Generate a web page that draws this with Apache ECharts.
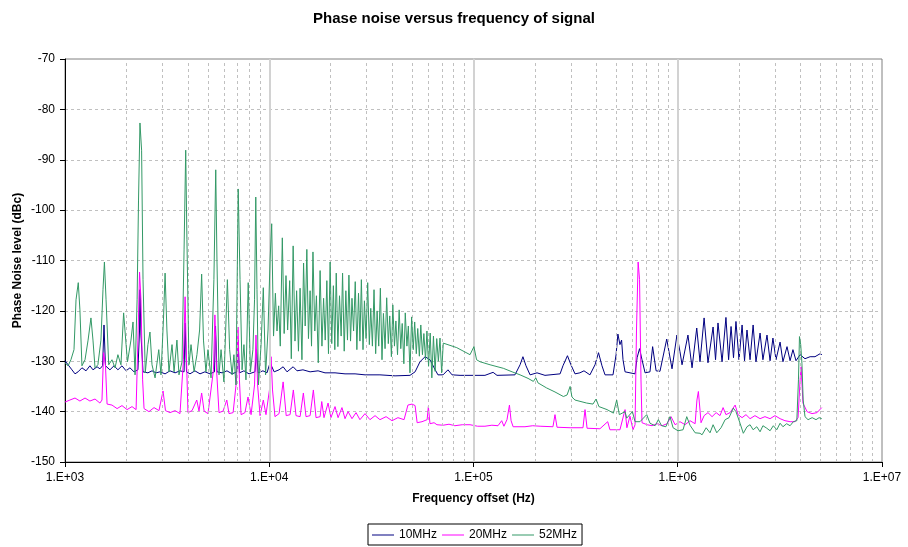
<!DOCTYPE html>
<html>
<head>
<meta charset="utf-8">
<script src="https://cdn.jsdelivr.net/npm/echarts@6/dist/echarts.min.js"></script>
<style>
  html, body { margin: 0; padding: 0; background: #ffffff; }
  #chart { width: 908px; height: 547px; }
</style>
</head>
<body>
<div id="chart"></div>
<script>
// Series names, axis tick labels and measured phase noise.
const seriesNames = ['10MHz', '20MHz', '52MHz'];
const xTickLabels = ['1.E+03', '1.E+04', '1.E+05', '1.E+06', '1.E+07'];

// Each point: [log10(offset frequency in Hz), phase noise in dBc]
const noise10MHz = [
  [3.000,-129.9],[3.015,-130.7],[3.034,-131.7],[3.049,-132.5],[3.064,-132.1],[3.083,-131.3],[3.103,-131.9],
  [3.122,-130.9],[3.137,-131.7],[3.157,-131.1],[3.171,-131.5],[3.184,-130.9],[3.191,-122.8],[3.198,-130.9],
  [3.220,-131.7],[3.240,-130.9],[3.259,-131.7],[3.279,-130.9],[3.299,-131.9],[3.318,-131.3],[3.338,-132.1],
  [3.357,-131.7],[3.365,-123.8],[3.367,-115.8],[3.372,-124.8],[3.382,-132.1],[3.406,-132.3],[3.426,-131.9],
  [3.446,-132.3],[3.465,-132.1],[3.490,-132.5],[3.514,-131.9],[3.539,-132.3],[3.563,-131.9],[3.583,-132.1],
  [3.588,-122.4],[3.595,-132.1],[3.612,-132.5],[3.636,-131.9],[3.661,-132.5],[3.685,-132.1],[3.710,-132.5],
  [3.732,-132.1],[3.737,-123.0],[3.744,-132.1],[3.769,-132.3],[3.793,-131.9],[3.818,-132.5],[3.842,-132.1],
  [3.847,-125.8],[3.854,-132.3],[3.876,-131.9],[3.901,-132.5],[3.930,-132.1],[3.938,-127.7],[3.945,-132.3],
  [3.969,-131.9],[3.989,-132.3],[4.004,-130.3],[4.024,-132.1],[4.048,-131.7],[4.068,-131.1],[4.087,-132.1],
  [4.117,-131.1],[4.136,-131.9],[4.165,-131.7],[4.200,-132.1],[4.239,-131.9],[4.273,-132.3],[4.322,-132.3],
  [4.371,-132.5],[4.420,-132.5],[4.469,-132.7],[4.542,-132.7],[4.616,-132.9],[4.689,-132.8],[4.714,-132.1],
  [4.738,-130.1],[4.763,-129.1],[4.787,-129.7],[4.807,-131.3],[4.826,-132.7],[4.851,-132.7],[4.875,-131.7],
  [4.895,-132.7],[4.934,-132.8],[5.007,-132.8],[5.056,-132.8],[5.096,-132.2],[5.115,-132.8],[5.203,-132.7],
  [5.228,-130.7],[5.242,-129.1],[5.257,-130.9],[5.277,-132.7],[5.311,-132.3],[5.350,-132.8],[5.424,-132.5],
  [5.438,-130.9],[5.460,-128.9],[5.477,-130.7],[5.497,-132.5],[5.521,-132.3],[5.541,-131.9],[5.570,-132.7],
  [5.595,-130.7],[5.612,-128.3],[5.629,-130.9],[5.644,-132.7],[5.683,-132.7],[5.698,-128.7],[5.707,-124.6],
  [5.717,-126.7],[5.725,-125.8],[5.732,-129.7],[5.742,-132.1],[5.791,-132.5],[5.801,-129.3],[5.813,-127.5],
  [5.825,-129.7],[5.840,-132.3],[5.864,-132.1],[5.877,-127.1],[5.894,-131.9],[5.913,-132.0],[5.946,-125.6],
  [5.972,-131.5],[5.996,-124.8],[6.011,-128.1],[6.021,-130.7],[6.050,-124.8],[6.070,-131.3],[6.093,-123.4],
  [6.109,-130.1],[6.129,-121.4],[6.148,-130.3],[6.173,-123.2],[6.185,-129.7],[6.197,-122.4],[6.217,-130.1],
  [6.236,-121.3],[6.249,-129.7],[6.261,-123.1],[6.273,-129.3],[6.285,-122.1],[6.300,-129.7],[6.315,-122.8],
  [6.327,-129.9],[6.339,-123.8],[6.354,-129.7],[6.369,-122.8],[6.383,-130.1],[6.403,-124.4],[6.417,-129.7],
  [6.437,-124.8],[6.452,-129.9],[6.466,-125.4],[6.481,-129.7],[6.501,-126.2],[6.515,-130.1],[6.535,-127.1],
  [6.550,-129.9],[6.564,-127.7],[6.579,-129.9],[6.599,-128.7],[6.623,-129.5],[6.648,-129.1],[6.672,-129.1],
  [6.697,-128.5],[6.706,-128.7]
];

const noise20MHz = [
  [3.000,-138.1],[3.024,-137.7],[3.049,-137.3],[3.073,-137.9],[3.098,-137.3],[3.122,-137.9],[3.147,-137.5],
  [3.171,-138.3],[3.181,-137.7],[3.189,-128.3],[3.198,-130.7],[3.206,-138.5],[3.230,-138.7],[3.255,-139.4],
  [3.279,-138.8],[3.304,-139.6],[3.328,-139.0],[3.348,-139.6],[3.357,-125.8],[3.365,-112.3],[3.372,-117.8],
  [3.380,-133.7],[3.387,-139.4],[3.411,-140.0],[3.436,-139.2],[3.460,-139.8],[3.480,-135.9],[3.492,-139.8],
  [3.514,-140.2],[3.539,-139.8],[3.563,-140.4],[3.580,-129.7],[3.588,-117.2],[3.595,-129.7],[3.602,-140.2],
  [3.622,-139.8],[3.645,-137.7],[3.656,-139.9],[3.669,-136.3],[3.681,-139.9],[3.700,-140.4],[3.727,-131.7],
  [3.734,-120.8],[3.742,-131.7],[3.754,-140.2],[3.774,-139.9],[3.792,-137.7],[3.803,-140.4],[3.823,-140.2],
  [3.840,-133.7],[3.847,-123.2],[3.854,-133.7],[3.862,-140.6],[3.881,-140.2],[3.896,-137.1],[3.911,-140.6],
  [3.928,-134.7],[3.935,-124.8],[3.943,-134.7],[3.955,-140.8],[3.971,-137.7],[3.984,-140.6],[4.001,-135.7],
  [4.009,-129.1],[4.016,-135.7],[4.028,-141.0],[4.048,-140.4],[4.068,-134.1],[4.083,-140.8],[4.102,-140.6],
  [4.118,-135.7],[4.131,-140.8],[4.151,-141.0],[4.167,-136.3],[4.180,-141.0],[4.200,-140.8],[4.216,-135.7],
  [4.229,-141.2],[4.249,-141.0],[4.257,-138.0],[4.268,-141.2],[4.288,-138.3],[4.302,-141.2],[4.322,-139.0],
  [4.337,-141.2],[4.356,-139.2],[4.371,-141.4],[4.386,-140.0],[4.405,-141.4],[4.425,-140.2],[4.444,-141.6],
  [4.469,-140.4],[4.493,-141.6],[4.518,-140.8],[4.542,-141.6],[4.572,-141.0],[4.601,-141.8],[4.630,-141.2],
  [4.660,-141.6],[4.679,-138.7],[4.699,-138.5],[4.714,-138.8],[4.724,-142.2],[4.748,-142.0],[4.773,-141.6],
  [4.779,-139.0],[4.787,-142.4],[4.807,-142.2],[4.821,-142.6],[4.851,-142.7],[4.880,-142.5],[4.909,-142.8],
  [4.945,-142.6],[4.983,-142.6],[5.020,-142.9],[5.056,-142.9],[5.090,-142.7],[5.120,-142.8],[5.138,-141.8],
  [5.149,-142.9],[5.164,-141.6],[5.176,-138.7],[5.184,-141.8],[5.194,-143.0],[5.252,-143.0],[5.290,-142.8],
  [5.326,-142.9],[5.389,-143.0],[5.399,-140.6],[5.409,-143.1],[5.473,-143.2],[5.536,-143.2],[5.546,-139.6],
  [5.556,-143.3],[5.619,-143.4],[5.657,-142.0],[5.668,-143.6],[5.717,-143.6],[5.742,-139.6],[5.751,-143.2],
  [5.766,-140.9],[5.781,-143.6],[5.791,-142.6],[5.798,-123.8],[5.806,-110.3],[5.813,-113.8],[5.820,-133.7],
  [5.825,-142.2],[5.850,-142.6],[5.874,-142.8],[5.899,-142.4],[5.923,-142.8],[5.948,-142.4],[5.967,-141.0],
  [5.987,-142.6],[6.011,-142.0],[6.036,-142.6],[6.060,-141.8],[6.085,-142.4],[6.094,-137.7],[6.101,-136.0],
  [6.109,-139.7],[6.114,-142.2],[6.129,-140.8],[6.148,-140.2],[6.168,-141.0],[6.188,-140.2],[6.207,-140.8],
  [6.222,-139.2],[6.236,-140.6],[6.256,-140.2],[6.281,-138.7],[6.295,-140.6],[6.315,-141.2],[6.334,-140.6],
  [6.354,-141.4],[6.378,-140.8],[6.403,-141.4],[6.427,-141.0],[6.452,-141.4],[6.476,-140.8],[6.501,-141.4],
  [6.525,-141.8],[6.550,-142.0],[6.574,-142.0],[6.589,-141.2],[6.599,-133.7],[6.604,-131.1],[6.613,-138.3],
  [6.633,-140.0],[6.657,-140.4],[6.682,-140.2],[6.705,-139.2]
];

const noise52MHz = [
  [3.000,-130.3],[3.015,-130.9],[3.029,-129.7],[3.044,-127.7],[3.054,-117.8],[3.065,-114.4],[3.073,-119.8],
  [3.083,-130.9],[3.098,-129.7],[3.113,-125.8],[3.127,-121.4],[3.137,-125.8],[3.147,-131.3],[3.161,-130.7],
  [3.176,-125.8],[3.186,-115.8],[3.193,-110.3],[3.201,-117.8],[3.214,-130.7],[3.230,-129.7],[3.245,-131.3],
  [3.259,-128.7],[3.274,-130.7],[3.287,-120.4],[3.299,-126.7],[3.306,-130.1],[3.323,-125.8],[3.333,-122.2],
  [3.343,-132.7],[3.353,-117.8],[3.360,-98.0],[3.367,-82.7],[3.375,-88.1],[3.382,-113.8],[3.393,-132.3],
  [3.406,-126.7],[3.416,-124.2],[3.426,-130.7],[3.441,-133.3],[3.459,-127.7],[3.470,-132.7],[3.482,-121.8],
  [3.490,-112.5],[3.499,-123.8],[3.509,-132.1],[3.524,-126.7],[3.534,-132.1],[3.548,-125.8],[3.558,-132.7],
  [3.573,-130.1],[3.583,-107.9],[3.591,-88.1],[3.597,-105.9],[3.607,-130.7],[3.617,-126.7],[3.632,-132.1],
  [3.646,-128.7],[3.659,-123.8],[3.669,-112.7],[3.678,-125.8],[3.690,-132.1],[3.700,-127.7],[3.715,-133.3],
  [3.729,-113.8],[3.738,-92.0],[3.744,-109.9],[3.754,-132.7],[3.764,-127.7],[3.778,-134.1],[3.795,-113.8],
  [3.806,-127.7],[3.818,-132.7],[3.827,-128.7],[3.837,-134.7],[3.848,-95.8],[3.857,-113.8],[3.867,-131.7],
  [3.876,-126.7],[3.886,-133.7],[3.897,-114.4],[3.908,-132.1],[3.920,-127.7],[3.928,-117.8],[3.934,-97.4],
  [3.940,-115.8],[3.947,-134.7],[3.960,-126.7],[3.971,-115.4],[3.982,-132.7],[3.994,-123.8],[4.004,-109.9],
  [4.012,-102.7],[4.021,-125.0],[4.030,-116.5],[4.038,-124.0],[4.046,-119.0],[4.054,-127.0],[4.064,-105.5],
  [4.073,-124.5],[4.082,-113.0],[4.090,-123.8],[4.100,-114.0],[4.108,-129.5],[4.117,-107.1],[4.126,-126.0],
  [4.134,-116.0],[4.143,-128.0],[4.151,-115.5],[4.160,-129.7],[4.168,-110.5],[4.176,-123.0],[4.184,-107.8],
  [4.192,-125.5],[4.200,-116.0],[4.207,-127.0],[4.214,-108.3],[4.223,-124.0],[4.231,-117.0],[4.240,-130.3],
  [4.249,-112.0],[4.258,-127.0],[4.266,-117.5],[4.274,-125.8],[4.282,-114.0],[4.290,-128.5],[4.298,-110.3],
  [4.306,-126.5],[4.314,-115.0],[4.321,-127.7],[4.328,-112.5],[4.336,-127.1],[4.344,-117.0],[4.352,-125.0],
  [4.359,-112.5],[4.367,-128.0],[4.375,-116.0],[4.383,-125.8],[4.390,-112.9],[4.398,-126.0],[4.405,-117.5],
  [4.413,-124.0],[4.421,-114.2],[4.429,-127.7],[4.437,-116.5],[4.444,-126.0],[4.451,-113.8],[4.459,-127.7],
  [4.466,-118.0],[4.474,-125.5],[4.482,-114.4],[4.490,-126.7],[4.497,-119.5],[4.505,-127.0],[4.513,-115.8],
  [4.521,-128.5],[4.528,-120.0],[4.536,-127.0],[4.544,-115.5],[4.552,-129.7],[4.559,-120.5],[4.567,-127.5],
  [4.575,-117.4],[4.583,-126.5],[4.590,-121.0],[4.598,-129.1],[4.605,-118.8],[4.613,-127.0],[4.620,-122.0],
  [4.628,-128.7],[4.636,-119.8],[4.644,-127.5],[4.651,-122.5],[4.659,-130.5],[4.666,-120.4],[4.674,-127.0],
  [4.681,-123.0],[4.689,-132.3],[4.697,-121.2],[4.705,-127.7],[4.712,-122.2],[4.720,-128.5],[4.727,-123.5],
  [4.735,-129.0],[4.742,-122.8],[4.750,-128.7],[4.757,-124.5],[4.765,-129.7],[4.772,-124.0],[4.780,-131.0],
  [4.788,-124.4],[4.796,-133.3],[4.804,-125.0],[4.812,-132.0],[4.820,-125.5],[4.828,-130.0],[4.836,-125.4],
  [4.844,-132.3],[4.852,-126.4],[4.860,-126.6],[4.918,-127.3],[4.983,-128.7],[5.002,-127.1],
  [5.015,-129.7],[5.032,-130.1],[5.081,-130.7],[5.146,-131.4],[5.189,-132.1],[5.228,-132.7],[5.267,-133.4],
  [5.293,-134.0],[5.305,-133.3],[5.316,-134.3],[5.358,-135.3],[5.399,-136.1],[5.440,-137.0],[5.458,-136.7],
  [5.473,-135.0],[5.482,-137.1],[5.497,-137.7],[5.554,-138.3],[5.585,-138.5],[5.600,-137.5],[5.614,-139.0],
  [5.654,-139.6],[5.685,-140.3],[5.701,-137.7],[5.714,-140.6],[5.742,-140.0],[5.750,-141.3],[5.778,-140.0],
  [5.791,-142.0],[5.815,-142.0],[5.848,-140.6],[5.864,-142.3],[5.889,-142.8],[5.905,-141.6],[5.921,-142.8],
  [5.942,-143.0],[5.962,-141.0],[5.977,-143.2],[6.001,-143.8],[6.026,-143.6],[6.044,-141.0],[6.060,-142.7],
  [6.085,-144.2],[6.109,-144.3],[6.119,-144.6],[6.139,-143.2],[6.158,-144.2],[6.173,-142.6],[6.191,-144.2],
  [6.212,-143.2],[6.232,-141.6],[6.251,-141.2],[6.272,-139.3],[6.285,-140.0],[6.305,-142.3],[6.321,-144.3],
  [6.339,-143.0],[6.354,-142.6],[6.369,-143.6],[6.387,-143.0],[6.403,-144.0],[6.417,-142.8],[6.436,-143.3],
  [6.452,-143.8],[6.468,-142.8],[6.485,-143.6],[6.501,-142.3],[6.515,-143.0],[6.533,-142.4],[6.550,-142.8],
  [6.566,-142.0],[6.583,-141.8],[6.591,-133.7],[6.596,-125.1],[6.602,-126.7],[6.608,-130.4],[6.614,-137.7],
  [6.623,-141.0],[6.638,-141.6],[6.658,-141.2],[6.677,-141.6],[6.692,-141.2],[6.705,-141.4]
];

const lineColors = ['#000080', '#FF00FF', '#339966'];
const FONT = '"Liberation Sans", Arial, Helvetica, sans-serif';

// Convert [log10 Hz, dBc] pairs into [Hz, dBc] for the logarithmic axis.
const toHz = pts => pts.map(([lg, db]) => [Math.pow(10, lg), db]);

// Light reference lines of the log grid: 2..9 within each decade, plus decade lines.
const minorFreqs = [];
for (let d = 3; d < 7; d++) {
  for (let m = 2; m <= 9; m++) minorFreqs.push(m * Math.pow(10, d));
}
const decadeFreqs = [1e4, 1e5, 1e6];

const chart = echarts.init(document.getElementById('chart'), null, { renderer: 'canvas' });

const dataSeries = [noise10MHz, noise20MHz, noise52MHz].map((pts, i) => ({
  name: seriesNames[i],
  type: 'line',
  data: toHz(pts),
  showSymbol: false,
  symbol: 'none',
  smooth: false,
  z: 3 + i,
  lineStyle: { color: lineColors[i], width: 1 },
  itemStyle: { color: lineColors[i] },
  emphasis: { disabled: true },
  animation: false
}));

chart.setOption({
  animation: false,
  backgroundColor: '#ffffff',
  title: {
    text: 'Phase noise versus frequency of signal',
    left: 'center',
    top: 6,
    textStyle: { fontFamily: FONT, fontSize: 15, fontWeight: 'bold', color: '#000' }
  },
  grid: {
    left: 65, right: 26, top: 59, bottom: 85,
    show: true, borderColor: '#808080', borderWidth: 1, backgroundColor: '#ffffff',
    containLabel: false, outerBoundsMode: 'none'
  },
  legend: {
    data: seriesNames,
    left: 368, top: 524,
    icon: 'rect', itemWidth: 22, itemHeight: 1, itemGap: 5,
    borderColor: '#000000', borderWidth: 1, padding: [5, 5, 4, 4],
    textStyle: { fontFamily: FONT, fontSize: 12, color: '#000' },
    selectedMode: false
  },
  xAxis: {
    type: 'log', logBase: 10, min: 1000, max: 1e7, splitNumber: 4,
    name: 'Frequency offset (Hz)', nameLocation: 'middle', nameGap: 31, nameMoveOverlap: false,
    nameTextStyle: { fontFamily: FONT, fontSize: 12, fontWeight: 'bold', color: '#000' },
    axisLine: { show: true, onZero: false, lineStyle: { color: '#000', width: 1 } },
    axisTick: { show: true, inside: false, length: 5, lineStyle: { color: '#000' } },
    axisLabel: {
      fontFamily: FONT, fontSize: 12, color: '#000', margin: 10,
      formatter: v => xTickLabels[Math.round(Math.log10(v)) - 3] || ''
    },
    splitLine: { show: false },
    minorTick: { show: false }, minorSplitLine: { show: false }
  },
  yAxis: {
    type: 'value', min: -150, max: -70, interval: 10,
    name: 'Phase Noise level (dBc)', nameLocation: 'middle', nameGap: 41, nameRotate: 90,
    nameMoveOverlap: false,
    nameTextStyle: { fontFamily: FONT, fontSize: 12, fontWeight: 'bold', color: '#000' },
    axisLine: { show: true, onZero: false, lineStyle: { color: '#000', width: 1 } },
    axisTick: { show: true, inside: false, length: 5, lineStyle: { color: '#000' } },
    axisLabel: { fontFamily: FONT, fontSize: 12, color: '#000', margin: 10 },
    splitLine: {
      show: true, showMinLine: false, showMaxLine: false,
      lineStyle: { color: '#c0c0c0', width: 1, type: [3, 3] }
    }
  },
  series: [
    {
      name: 'logGrid',
      type: 'line',
      data: [],
      z: 1,
      silent: true,
      markLine: {
        silent: true, symbol: 'none', animation: false,
        label: { show: false },
        data: minorFreqs.filter(f => decadeFreqs.indexOf(f) < 0).map(f => ({
          xAxis: f, lineStyle: { color: '#c0c0c0', width: 1, type: [3, 3] }
        })).concat(decadeFreqs.map(f => ({
          xAxis: f, lineStyle: { color: '#d2d2d2', width: 2, type: 'solid' }
        })))
      }
    }
  ].concat(dataSeries)
});
</script>
</body>
</html>
